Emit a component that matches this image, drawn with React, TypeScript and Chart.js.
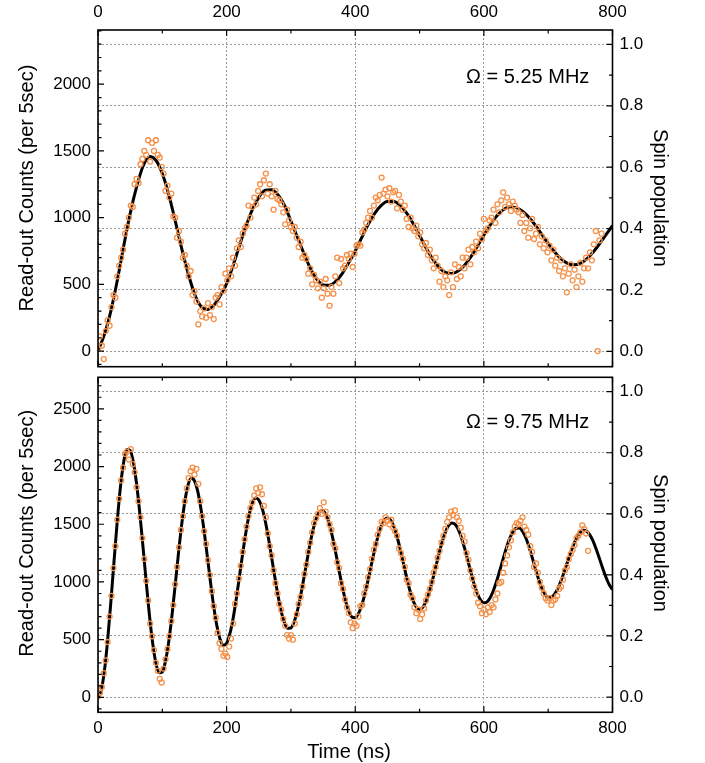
import React, { useEffect, useRef } from "react";
import { Chart, registerables } from "chart.js";

Chart.register(...registerables);

const FONT_FAMILY = '"Liberation Sans", Arial, Helvetica, sans-serif';
const GRID_COLOR = "#9a9a9a";
const POINT_COLOR = "#F4914A";

const LEFT_TITLE = "Read-out Counts (per 5sec)";
const RIGHT_TITLE = "Spin population";
const X_TITLE = "Time (ns)";

// ---- time axis ----
const TIME_RANGE = [0, 800];
const TIME_MAJOR_TICKS = [0, 200, 400, 600, 800];
const TIME_MINOR_TICKS = [100, 300, 500, 700];

// ---- spin population axis (right) ----
const POP_RANGE = [-0.05, 1.047];
const POP_MAJOR_TICKS = [0, 0.2, 0.4, 0.6, 0.8, 1.0];
const POP_MINOR_TICKS = [0.1, 0.3, 0.5, 0.7, 0.9];

// ---- panel 1 : 5.25 MHz ----
const TOP_LABEL = "\u03A9 = 5.25 MHz";
const TOP_COUNTS_RANGE = [-117, 2406];
const TOP_COUNT_MAJOR_TICKS = [0, 500, 1000, 1500, 2000];
const TOP_COUNT_MINOR_TICKS = [-100, 100, 200, 300, 400, 600, 700, 800, 900, 1100, 1200, 1300, 1400, 1600, 1700, 1800, 1900, 2100, 2200, 2300, 2400];
const TOP_FIT_STEP_NS = 10;
const TOP_FIT = [
  0, 125, 300, 530, 787, 1030, 1230, 1385, 1458, 1430,
  1330, 1172, 978, 771, 585, 430, 336, 311, 343, 415,
  505, 640, 790, 935, 1060, 1152, 1205, 1209, 1170, 1091,
  975, 855, 733, 622, 540, 496, 494, 525, 583, 663,
  750, 850, 948, 1030, 1090, 1121, 1121, 1091, 1033, 956,
  866, 775, 693, 629, 590, 581, 600, 644, 708, 785,
  868, 946, 1012, 1058, 1080, 1075, 1049, 1003, 943, 874,
  805, 742, 691, 658, 647, 658, 691, 742, 805, 873,
  940,
];
const TOP_DATA_STEP_NS = 3;
const TOP_DATA = [
  20, 110, 40, -60, 150, 230, 190, 330, 420, 400,
  560, 640, 700, 760, 880, 930, 1000, 1090, 1080, 1250,
  1290, 1260, 1400, 1440, 1500, 1470, 1580, 1420, 1560, 1500,
  1580, 1470, 1450, 1380, 1330, 1200, 1240, 1150, 1180, 1010,
  1000, 850, 900, 820, 700, 720, 640, 560, 600, 420,
  450, 370, 200, 300, 260, 320, 250, 360, 270, 330,
  240, 400, 420, 350, 480, 450, 580, 530, 620, 560,
  700, 640, 770, 830, 780, 880, 920, 940, 1090, 1000,
  1080, 1150, 1100, 1200, 1250, 1160, 1280, 1330, 1180, 1250,
  1160, 1060, 1200, 1140, 1130, 1100, 1040, 950, 1060, 980,
  930, 900, 930, 850, 780, 820, 700, 720, 690, 580,
  620, 500, 570, 530, 470, 520, 400, 470, 540, 430,
  340, 480, 430, 560, 700, 510, 690, 620, 640, 720,
  690, 730, 630, 730, 790, 800, 790, 890, 910, 960,
  1000, 1050, 1000, 1090, 1150, 1130, 1170, 1300, 1180, 1210,
  1160, 1220, 1120, 1190, 1200, 1070, 1170, 1120, 1060, 1090,
  990, 930, 1000, 920, 900, 940, 860, 890, 800, 770,
  810, 720, 760, 680, 620, 700, 640, 520, 600, 480,
  560, 530, 420, 590, 480, 650, 540, 630, 560, 700,
  620, 700, 760, 650, 780, 740, 820, 770, 880, 840,
  990, 900, 920, 980, 1000, 1060, 960, 1100, 1040, 1130,
  1190, 1080, 1150, 1100, 1050, 1120, 1090, 1060, 1040, 960,
  1020, 900, 960, 850, 920, 990, 840, 880, 930, 800,
  860, 770, 830, 740, 790, 680, 760, 640, 700, 600,
  680, 560, 620, 440, 580, 650, 530, 610, 480, 560,
  660, 520, 620, 700, 620, 740, 680, 800, 900, 0,
  830, 880,
];

// ---- panel 2 : 9.75 MHz ----
const BOTTOM_LABEL = "\u03A9 = 9.75 MHz";
const BOTTOM_COUNTS_RANGE = [-129, 2773];
const BOTTOM_COUNT_MAJOR_TICKS = [0, 500, 1000, 1500, 2000, 2500];
const BOTTOM_COUNT_MINOR_TICKS = [-100, 100, 200, 300, 400, 600, 700, 800, 900, 1100, 1200, 1300, 1400, 1600, 1700, 1800, 1900, 2100, 2200, 2300, 2400, 2600, 2700];
const BOTTOM_FIT_STEP_NS = 5;
const BOTTOM_FIT = [
  0, 59, 232, 497, 828, 1185, 1532, 1828, 2041, 2147, 2140, 2036, 1849, 1597, 1303, 998, 711, 470, 298, 213,
  220, 315, 483, 709, 971, 1242, 1492, 1698, 1839, 1898, 1877, 1787, 1637, 1442, 1220, 995, 786, 616, 501, 451,
  470, 550, 681, 854, 1049, 1248, 1431, 1581, 1683, 1727, 1711, 1643, 1530, 1381, 1213, 1040, 878, 743, 646, 599,
  603, 655, 750, 879, 1030, 1187, 1337, 1466, 1561, 1613, 1618, 1577, 1495, 1380, 1243, 1096, 956, 835, 746, 696,
  691, 726, 797, 897, 1018, 1148, 1276, 1389, 1479, 1535, 1555, 1536, 1480, 1392, 1282, 1159, 1036, 926, 838, 782,
  763, 780, 832, 912, 1013, 1126, 1240, 1344, 1430, 1487, 1511, 1501, 1458, 1386, 1293, 1187, 1079, 979, 898, 842,
  819, 827, 865, 928, 1010, 1105, 1203, 1295, 1375, 1432, 1465, 1468, 1440, 1385, 1308, 1215, 1119, 1026, 949, 894,
  866, 869, 895, 944, 1010, 1089, 1173, 1256, 1330, 1390, 1430, 1447, 1439, 1406, 1352, 1280, 1198, 1115, 1039, 976,
  934,
];
const BOTTOM_DATA_STEP_NS = 3;
const BOTTOM_DATA = [
  10, 40, 90, 210, 320, 480, 700, 880, 1120, 1310,
  1540, 1720, 1880, 1990, 2110, 2130, 2060, 2150, 2020, 1950,
  1820, 1700, 1560, 1380, 1200, 1010, 840, 640, 530, 410,
  300, 230, 160, 130, 250, 330, 420, 530, 660, 800,
  980, 1130, 1300, 1450, 1570, 1700, 1810, 1900, 1960, 1990,
  1930, 1980, 1850, 1700, 1570, 1440, 1330, 1190, 1060, 920,
  790, 690, 560, 470, 420, 360, 380, 350, 440, 510,
  640, 810, 900, 1030, 1140, 1260, 1370, 1480, 1570, 1640,
  1690, 1750, 1810, 1770, 1820, 1760, 1660, 1560, 1420, 1310,
  1230, 1100, 990, 900, 810, 760, 680, 620, 540, 510,
  540, 500, 640, 720, 810, 870, 960, 1070, 1150, 1260,
  1340, 1430, 1510, 1550, 1590, 1640, 1590, 1690, 1610, 1560,
  1500, 1450, 1330, 1290, 1170, 1120, 990, 940, 850, 780,
  730, 650, 600, 640, 620, 700, 790, 800, 900, 960,
  1040, 1110, 1200, 1280, 1330, 1410, 1460, 1520, 1510, 1560,
  1530, 1500, 1540, 1470, 1440, 1400, 1290, 1250, 1200, 1130,
  1020, 990, 890, 860, 780, 730, 760, 680, 720, 770,
  840, 890, 940, 1000, 1080, 1130, 1210, 1270, 1340, 1400,
  1460, 1520, 1560, 1610, 1580, 1620, 1560, 1530, 1470, 1400,
  1350, 1250, 1190, 1100, 1030, 960, 900, 820, 790, 730,
  760, 720, 780, 740, 800, 780, 850, 900, 990, 1000,
  1080, 1160, 1230, 1300, 1360, 1430, 1480, 1510, 1500, 1530,
  1560, 1480, 1450, 1410, 1310, 1260, 1130, 1160, 1080, 1000,
  950, 900, 860, 840, 860, 800, 840, 850, 880, 940,
  960, 1020, 1100, 1130, 1200, 1240, 1280, 1320, 1380, 1400,
  1430, 1490, 1460, 1420, 1270,
];

type PanelDef = {
  key: string;
  top: number;
  height: number;
  padTop: number;
  padBottom: number;
  xPosition: "top" | "bottom";
  xAxisHeight: number;
  xTickPad: number;
  countsRange: number[];
  countMajor: number[];
  countMinor: number[];
  fit: number[];
  fitStep: number;
  data: number[];
  dataStep: number;
  label: string;
  labelPos: [number, number];
  leftTitlePos: [number, number];
  rightTitlePos: [number, number];
  xTitlePos: [number, number] | null;
};

const PANELS: PanelDef[] = [
  {
    key: "top",
    top: 0,
    height: 372,
    padTop: 0,
    padBottom: 4.3,
    xPosition: "top",
    xAxisHeight: 30,
    xTickPad: 7,
    countsRange: TOP_COUNTS_RANGE,
    countMajor: TOP_COUNT_MAJOR_TICKS,
    countMinor: TOP_COUNT_MINOR_TICKS,
    fit: TOP_FIT,
    fitStep: TOP_FIT_STEP_NS,
    data: TOP_DATA,
    dataStep: TOP_DATA_STEP_NS,
    label: TOP_LABEL,
    labelPos: [466, 82.7],
    leftTitlePos: [33, 188],
    rightTitlePos: [654, 198],
    xTitlePos: null,
  },
  {
    key: "bottom",
    top: 372,
    height: 391,
    padTop: 3,
    padBottom: 0,
    xPosition: "bottom",
    xAxisHeight: 50.7,
    xTickPad: 6,
    countsRange: BOTTOM_COUNTS_RANGE,
    countMajor: BOTTOM_COUNT_MAJOR_TICKS,
    countMinor: BOTTOM_COUNT_MINOR_TICKS,
    fit: BOTTOM_FIT,
    fitStep: BOTTOM_FIT_STEP_NS,
    data: BOTTOM_DATA,
    dataStep: BOTTOM_DATA_STEP_NS,
    label: BOTTOM_LABEL,
    labelPos: [466, 56.3],
    leftTitlePos: [33, 161.3],
    rightTitlePos: [654, 171],
    xTitlePos: [349, 386],
  },
];

function makeDecorPlugin(panel: PanelDef) {
  return {
    id: "decor_" + panel.key,
    afterDraw(chart: any) {
      const { ctx, chartArea: a, scales } = chart;
      const x = scales.x;
      const yL = scales.yL;
      const yR = scales.yR;
      const MAJ = 6;
      const MIN = 3.5;
      ctx.save();
      ctx.strokeStyle = "#000";
      ctx.lineWidth = 1.2;
      ctx.beginPath();
      const seg = (x1: number, y1: number, x2: number, y2: number) => {
        ctx.moveTo(x1, y1);
        ctx.lineTo(x2, y2);
      };
      const xs: [number[], number][] = [
        [TIME_MAJOR_TICKS, MAJ],
        [TIME_MINOR_TICKS, MIN],
      ];
      xs.forEach(([vals, len]) =>
        vals.forEach((v) => {
          const p = x.getPixelForValue(v);
          seg(p, a.top, p, a.top + len);
          seg(p, a.bottom, p, a.bottom - len);
        })
      );
      const ls: [number[], number][] = [
        [panel.countMajor, MAJ],
        [panel.countMinor, MIN],
      ];
      ls.forEach(([vals, len]) =>
        vals.forEach((v) => {
          const p = yL.getPixelForValue(v);
          seg(a.left, p, a.left + len, p);
        })
      );
      const rs: [number[], number][] = [
        [POP_MAJOR_TICKS, MAJ],
        [POP_MINOR_TICKS, MIN],
      ];
      rs.forEach(([vals, len]) =>
        vals.forEach((v) => {
          const p = yR.getPixelForValue(v);
          seg(a.right, p, a.right - len, p);
        })
      );
      ctx.stroke();
      ctx.lineWidth = 1.6;
      ctx.strokeRect(a.left, a.top, a.right - a.left, a.bottom - a.top);

      ctx.fillStyle = "#000";
      ctx.font = `20px ${FONT_FAMILY}`;
      ctx.textBaseline = "alphabetic";
      ctx.textAlign = "left";
      ctx.fillText(panel.label, panel.labelPos[0], panel.labelPos[1]);

      ctx.save();
      ctx.translate(panel.leftTitlePos[0], panel.leftTitlePos[1]);
      ctx.rotate(-Math.PI / 2);
      ctx.textAlign = "center";
      ctx.fillText(LEFT_TITLE, 0, 0);
      ctx.restore();

      ctx.save();
      ctx.translate(panel.rightTitlePos[0], panel.rightTitlePos[1]);
      ctx.rotate(Math.PI / 2);
      ctx.textAlign = "center";
      ctx.fillText(RIGHT_TITLE, 0, 0);
      ctx.restore();

      if (panel.xTitlePos) {
        ctx.textAlign = "center";
        ctx.fillText(X_TITLE, panel.xTitlePos[0], panel.xTitlePos[1]);
      }
      ctx.restore();
    },
  };
}

function buildConfig(panel: PanelDef): any {
  const fitPts = panel.fit.map((v, i) => ({ x: i * panel.fitStep, y: v }));
  const dataPts = panel.data.map((v, i) => ({ x: i * panel.dataStep, y: v }));
  const tickFont = { family: FONT_FAMILY, size: 17 };
  const setTicks = (vals: number[]) => (s: any) => {
    s.ticks = vals.map((v) => ({ value: v }));
  };
  return {
    type: "scatter",
    data: {
      datasets: [
        {
          data: fitPts,
          xAxisID: "x",
          yAxisID: "yL",
          showLine: true,
          borderColor: "#000",
          borderWidth: 3,
          pointRadius: 0,
          cubicInterpolationMode: "monotone",
          order: 2,
        },
        {
          data: dataPts,
          xAxisID: "x",
          yAxisID: "yL",
          showLine: false,
          pointRadius: 2.5,
          pointBorderWidth: 1.3,
          pointBorderColor: POINT_COLOR,
          pointBackgroundColor: "rgba(255,255,255,0)",
          borderColor: POINT_COLOR,
          backgroundColor: "rgba(255,255,255,0)",
          order: 1,
        },
      ],
    },
    options: {
      responsive: false,
      maintainAspectRatio: false,
      animation: false,
      devicePixelRatio: 1,
      events: [],
      layout: { padding: { top: panel.padTop, bottom: panel.padBottom, left: 0, right: 0 } },
      plugins: {
        legend: { display: false },
        tooltip: { enabled: false },
        title: { display: false },
      },
      scales: {
        x: {
          type: "linear",
          position: panel.xPosition,
          min: TIME_RANGE[0],
          max: TIME_RANGE[1],
          afterBuildTicks: setTicks(TIME_MAJOR_TICKS),
          afterFit: (s: any) => {
            s.height = panel.xAxisHeight;
            s.paddingLeft = 0;
            s.paddingRight = 0;
            s.paddingTop = 0;
            s.paddingBottom = 0;
          },
          grid: { display: true, color: GRID_COLOR, lineWidth: 1, drawTicks: false },
          border: { display: false, dash: [2, 2] },
          ticks: {
            font: tickFont,
            color: "#000",
            padding: panel.xTickPad,
            maxRotation: 0,
            autoSkip: false,
            callback: (v: any) => String(v),
          },
        },
        yL: {
          type: "linear",
          position: "left",
          min: panel.countsRange[0],
          max: panel.countsRange[1],
          afterBuildTicks: setTicks(panel.countMajor),
          afterFit: (s: any) => {
            s.width = 98;
            s.paddingTop = 0;
            s.paddingBottom = 0;
            s.paddingLeft = 0;
            s.paddingRight = 0;
          },
          grid: { display: false, drawTicks: false },
          border: { display: false },
          ticks: {
            font: tickFont,
            color: "#000",
            padding: 7,
            autoSkip: false,
            callback: (v: any) => String(v),
          },
        },
        yR: {
          type: "linear",
          position: "right",
          min: POP_RANGE[0],
          max: POP_RANGE[1],
          afterBuildTicks: setTicks(POP_MAJOR_TICKS),
          afterFit: (s: any) => {
            s.width = 92.5;
            s.paddingTop = 0;
            s.paddingBottom = 0;
            s.paddingLeft = 0;
            s.paddingRight = 0;
          },
          grid: { display: true, color: GRID_COLOR, lineWidth: 1, drawTicks: false },
          border: { display: false, dash: [2, 2] },
          ticks: {
            font: tickFont,
            color: "#000",
            padding: 7,
            autoSkip: false,
            callback: (v: any) => Number(v).toFixed(1),
          },
        },
      },
    },
    plugins: [makeDecorPlugin(panel)],
  };
}

function Panel({ panel }: { panel: PanelDef }) {
  const ref = useRef<HTMLCanvasElement | null>(null);
  useEffect(() => {
    if (!ref.current) return;
    const chart = new Chart(ref.current, buildConfig(panel));
    return () => chart.destroy();
  }, [panel]);
  return (
    <canvas
      ref={ref}
      width={705}
      height={panel.height}
      style={{ position: "absolute", left: 0, top: panel.top, width: 705, height: panel.height }}
    />
  );
}

export default function App() {
  return (
    <div style={{ position: "fixed", left: 0, top: 0, width: 705, height: 763, background: "#fff" }}>
      {PANELS.map((p) => (
        <Panel key={p.key} panel={p} />
      ))}
    </div>
  );
}
